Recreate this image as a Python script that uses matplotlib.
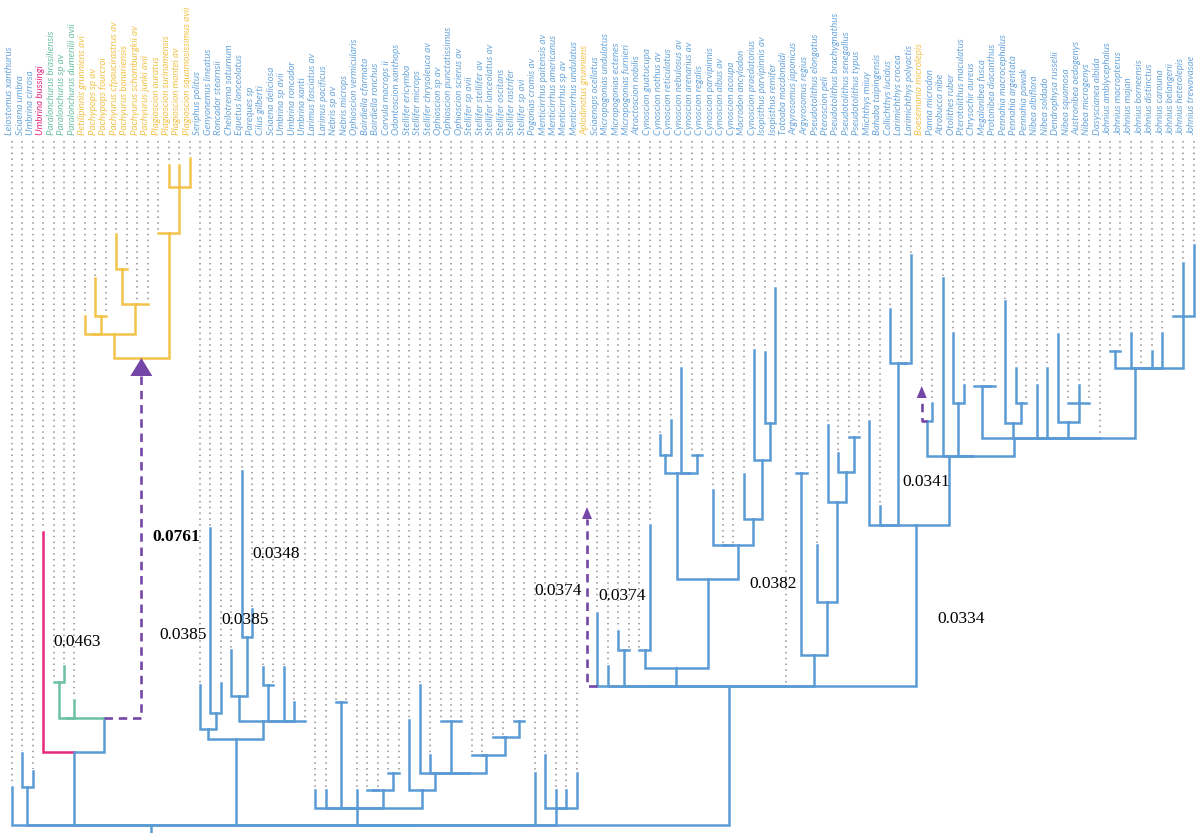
import matplotlib
matplotlib.use("Agg")
import matplotlib.pyplot as plt
from matplotlib.patches import Polygon

# ---------------------------------------------------------------- data
TIP_NAMES = [
    "Leiostomus xanthurus", "Sciaena umbra", "Umbrina cirrosa", "Umbrina bussingi",
    "Paralonchurus brasiliensis", "Paralonchurus sp av", "Paralonchurus dumerilii avii",
    "Petilipinnis grunniens avi", "Pachypops sp av", "Pachypops fourcroi",
    "Pachyurus cfpaucirastrus av", "Pachyurus bonariensis", "Pachyurus schomburgkii av",
    "Pachyurus junki avii", "Plagioscion auratus", "Plagioscion surinamensis",
    "Plagioscion montei av", "Plagioscion squamosissimus avii", "Seriphus politus",
    "Genyonemus lineatus", "Roncador stearnsii", "Cheilotrema saturnum",
    "Equetus lanceolatus", "Pareques sp", "Cilus gilberti", "Sciaena deliciosa",
    "Umbrina sp avii", "Umbrina roncador", "Umbrina xanti", "Larimus fasciatus av",
    "Larimus pacificus", "Nebris sp av", "Nebris microps", "Ophioscion vermicularis",
    "Bairdiella cfarmata", "Bairdiella ronchus", "Corvula macrops ii",
    "Odontoscion xanthops", "Stellifer ericymba", "Stellifer microps",
    "Stellifer chrysoleuca av", "Ophioscion sp av", "Ophioscion punctatissimus",
    "Ophioscion scierus av", "Stellifer sp avii", "Stellifer stellifer av",
    "Stellifer lanceolatus av", "Stellifer oscitans", "Stellifer rastrifer",
    "Stellifer sp avi", "Pogonias cromis av", "Menticirrhus paitensis av",
    "Menticirrhus americanus", "Menticirrhus sp av", "Menticirrhus undulatus",
    "Aplodinotus grunniens", "Sciaenops ocellatus", "Micropogonias undulatus",
    "Micropogonias ectenes", "Micropogonias furnieri", "Atractoscion nobilis",
    "Cynoscion guatucupa", "Cynoscion nothus av", "Cynoscion reticulatus",
    "Cynoscion nebulosus av", "Cynoscion arenarius av", "Cynoscion regalis",
    "Cynoscion parvipinnis", "Cynoscion albus av", "Cynoscion acoupa",
    "Macrodon ancylodon", "Cynoscion praedatorius", "Isopisthus parvipinnis av",
    "Isopisthus remifer", "Totoaba macdonaldi", "Argyrosomus japonicus",
    "Argyrosomus regius", "Pseudotolithus elongatus", "Pteroscion peli",
    "Pseudotolithus brachygnathus", "Pseudotolithus senegallus", "Pseudotolithus typus",
    "Miichthys miiuy", "Bahaba taipingensis", "Collichthys lucidus",
    "Larimichthys crocea", "Larimichthys polyactis", "Boesemania microlepis",
    "Panna microdon", "Atrobucca nibe", "Otolithes ruber", "Pterotolithus maculatus",
    "Chrysochir aureus", "Megalonibea fusca", "Protonibea diacanthus",
    "Pennahia macrocephalus", "Pennahia argentata", "Pennahia pawak",
    "Nibea albiflora", "Nibea soldado", "Dendrophysa russelii", "Nibea squamosa",
    "Austronibea oedogenys", "Nibea microgenys", "Dasyscianea albida",
    "Johnius amblycephalus", "Johnius macropterus", "Johnius majan",
    "Johnius borneensis", "Johnius distinctus", "Johnius carouna",
    "Johnius belangerii", "Johnius heterolepis", "Johnius trewavasae",
]

# height reached by each terminal branch; None = tip sits on its parent's bar
TIP_HEIGHT = [
    38, 72, 54, 293, None, 159, 125, 509, 547.5, None,
    591.5, None, None, None, None, 660, 660, 667, 140, 297,
    142, 175, 354, 216, 158, None, 158, 123, None, 35,
    35, None, None, 35, None, None, None, None, 105, 140,
    70, None, None, None, None, None, None, None, None, None,
    52, 70, 35, 35, 52, 318, 212, 159, 194, None,
    None, 300, 390, 405, 457, None, None, 335, None, None,
    351, 475, 473, 537, None, None, None, 280, 400, 372,
    None, None, 404, 319, 516, None, 570, 439, 422, 547,
    492, 440, None, None, None, 524, 457, None, 440, 457,
    491, None, 440, None, None, None, None, 492, None, 474,
    492, None, 562, 580,
]

PINK_TIPS = [3]
GREEN_TIPS = [4, 5, 6]
YELLOW_TIPS = [7, 8, 9, 10, 11, 12, 13, 14, 15, 16, 17, 55, 87]

# tips shown as relocated (dashed stem with arrow); ghost tips do not count in node placement
MOVED_TIPS = [55, 87]
GHOST_TIPS = [55]

ANNOT_TEXT = ["0.0463", "0.0761", "0.0385", "0.0385", "0.0348",
              "0.0374", "0.0374", "0.0382", "0.0341", "0.0334"]
ANNOT_BOLD = [False, True, False, False, False, False, False, False, False, False]


def node(h, *kids, moved=False):
    return {"h": h, "kids": list(kids), "moved": moved}


# ---------------------------------------------------------------- topology
yellow_clade = node(
    467,
    node(491,
         node(491, 7, node(509, 8, 9)),
         node(521, node(556, 10, 11), 12, 13)),
    node(592, 14, node(638.5, 15, 16, 17)),
    moved=True)

clade_b = node(73, 3, node(107, node(107, node(143, 4, 5), 6), yellow_clade))

clade_l = node(
    86,
    node(96, 18, node(112, 19, 20)),
    node(104.3,
         node(129, 21, node(188, 22, 23)),
         node(104.3, node(140, 24, 25), 26, 27, 28)))

clade_s = node(
    17, 29, 30, node(123, 31, 32), 33,
    node(35, node(35, 34, 35), node(52.3, 36, 37)),
    node(35, 38,
         node(52.3, 39,
              node(52.3, 40,
                   node(52.3,
                        node(104.3, 41, 42, 43),
                        node(70, 44, 45,
                             node(87.7, 46, 47, node(104.3, 48, 49))))))))

clade_m = node(17, 51, node(17, 52, 53, 54))

clade_c = node(
    157,
    node(175, 60, 61),
    node(246,
         node(352, node(370, 62, 63), node(352, 64, node(370, 65, 66))),
         node(280.5, node(280.5, 67, 68, 69),
              node(306, 70, node(365, 71, node(402.3, 72, 73))))))

clade_p = node(
    170,
    node(352.3, 75, 76),
    node(223.3, 77, node(323.3, 78, node(353.3, 79, node(388.3, 80, 81)))))

clade_j = node(
    457.3,
    node(474.3, 105, 106),
    node(457.3, 107, 108, 109, 110, node(509.3, 111, 112, 113)))

clade_n = node(
    386.7,
    node(439.3, 92, node(439.3, 93, 94)),
    node(386.7,
         node(401.7, 95, node(421.7, 96, 97)),
         node(386.7, 98, 99, node(403.3, 100, node(421.7, 101, 102, 103)), 104, clade_j)))

clade_a = node(
    300,
    node(300, 82, 83, node(461.7, 84, node(461.7, 85, 86))),
    node(369, node(404, 87, 88), node(369, 89, node(422, 90, 91), clade_n)))

clade_r = node(139.4, 55, 56, 57, node(139.4, node(175, 58, 59), clade_c),
               74, clade_p, clade_a)

tree = node(0, 0, node(38, 1, 2),
            node(0, clade_b, clade_l, clade_s, 50, clade_m, clade_r))

# ---------------------------------------------------------------- style
BLUE = "#5b9bd5"
LABEL_BLUE = "#6aa6dc"
PINK = "#e5287c"
GREEN = "#6cc0a4"
YELLOW = "#f3c24a"
PURPLE = "#7446a6"
DOT_GREY = "#8f8f8f"

TIP_COLOR = {}
for i in range(len(TIP_NAMES)):
    TIP_COLOR[i] = BLUE
for i in PINK_TIPS:
    TIP_COLOR[i] = PINK
for i in GREEN_TIPS:
    TIP_COLOR[i] = GREEN
for i in YELLOW_TIPS:
    TIP_COLOR[i] = YELLOW

# horizontal data unit = one tip slot; vertical data unit = one pixel of height
X0_PIX, TIP_STEP_PIX = 11.7, 10.46
W, H = 1196, 833
LABEL_BASE = 690      # height where labels start
GUIDE_TOP = 684       # height where dotted guides start

fig = plt.figure(figsize=(W / 100, H / 100), dpi=100)
ax = fig.add_axes([0, 0, 1, 1])
ax.set_xlim(-X0_PIX / TIP_STEP_PIX, (W - X0_PIX) / TIP_STEP_PIX)
ax.set_ylim(-8, 825)
ax.axis("off")

BRANCH_LW = 1.8


def is_tip(k):
    return isinstance(k, int)


def place(n):
    """x of a node = mean x of its (non-ghost) children."""
    if is_tip(n):
        return float(n)
    xs = []
    for k in n["kids"]:
        xk = place(k)
        if not (is_tip(k) and k in GHOST_TIPS):
            xs.append(xk)
    n["x"] = sum(xs) / len(xs)
    return n["x"]


def colour_of(k):
    if is_tip(k):
        return TIP_COLOR[k]
    cols = {colour_of(c) for c in k["kids"]}
    return cols.pop() if len(cols) == 1 else BLUE


def x_of(k):
    return float(k) if is_tip(k) else k["x"]


place(tree)

arrows = []        # (x, tip height, half width, length)
tip_floor = {}     # where each dotted guide stops


def draw(n):
    h = n["h"]
    plain = [c for c in n["kids"] if not (is_tip(c) and c in GHOST_TIPS)]
    left = min(x_of(c) for c in plain)
    for k in n["kids"]:
        xk = x_of(k)
        if is_tip(k):
            top = TIP_HEIGHT[k] if TIP_HEIGHT[k] is not None else h
            moved = k in MOVED_TIPS
            tip_floor[k] = top
        else:
            top = k["h"]
            moved = k["moved"]
        x_start = left if (is_tip(k) and k in GHOST_TIPS) else n["x"]
        if moved:
            big = not is_tip(k)
            length = 18 if big else 12
            half = 1.05 if big else 0.48
            ax.plot([x_start, xk, xk], [h, h, top - length], color=PURPLE, lw=1.9,
                    ls=(0, (3.2, 2.2)), zorder=4, dash_capstyle="butt")
            arrows.append((xk, top, half, length))
        else:
            ax.plot([x_start, xk, xk], [h, h, top], color=colour_of(k), lw=BRANCH_LW,
                    solid_capstyle="projecting", solid_joinstyle="miter", zorder=3)
        if not is_tip(k):
            draw(k)


draw(tree)

# root stem
ax.plot([tree["x"], tree["x"]], [0, -8], color=BLUE, lw=BRANCH_LW,
        solid_capstyle="butt", zorder=3)

for xa, ta, half, length in arrows:
    ax.add_patch(Polygon([(xa - half, ta - length), (xa + half, ta - length), (xa, ta)],
                         closed=True, facecolor=PURPLE, edgecolor="none", zorder=5))

# dotted guides and tip labels
for i, name in enumerate(TIP_NAMES):
    ax.plot([i, i], [GUIDE_TOP, tip_floor[i] + 2], color=DOT_GREY, lw=1.1,
            ls=(0, (1, 2.8)), zorder=1)
    col = LABEL_BLUE if TIP_COLOR[i] == BLUE else TIP_COLOR[i]
    ax.text(i - 0.2, LABEL_BASE, name, rotation=90, ha="center", va="bottom",
            fontsize=7.0, fontstyle="italic", family="Lato", color=col)

# branch rate annotations
ANNOT_POS = [(6.29, 183), (15.71, 288), (16.38, 190), (22.35, 205), (25.32, 271),
             (52.27, 234), (58.35, 229), (72.78, 241), (87.41, 343), (90.75, 206)]
for txt, bold, (xa, ya) in zip(ANNOT_TEXT, ANNOT_BOLD, ANNOT_POS):
    ax.text(xa, ya, txt, ha="center", va="center", fontsize=12.5,
            family="Liberation Serif", fontweight="bold" if bold else "normal",
            color="black", zorder=6)

fig.savefig("out.png", dpi=100)
